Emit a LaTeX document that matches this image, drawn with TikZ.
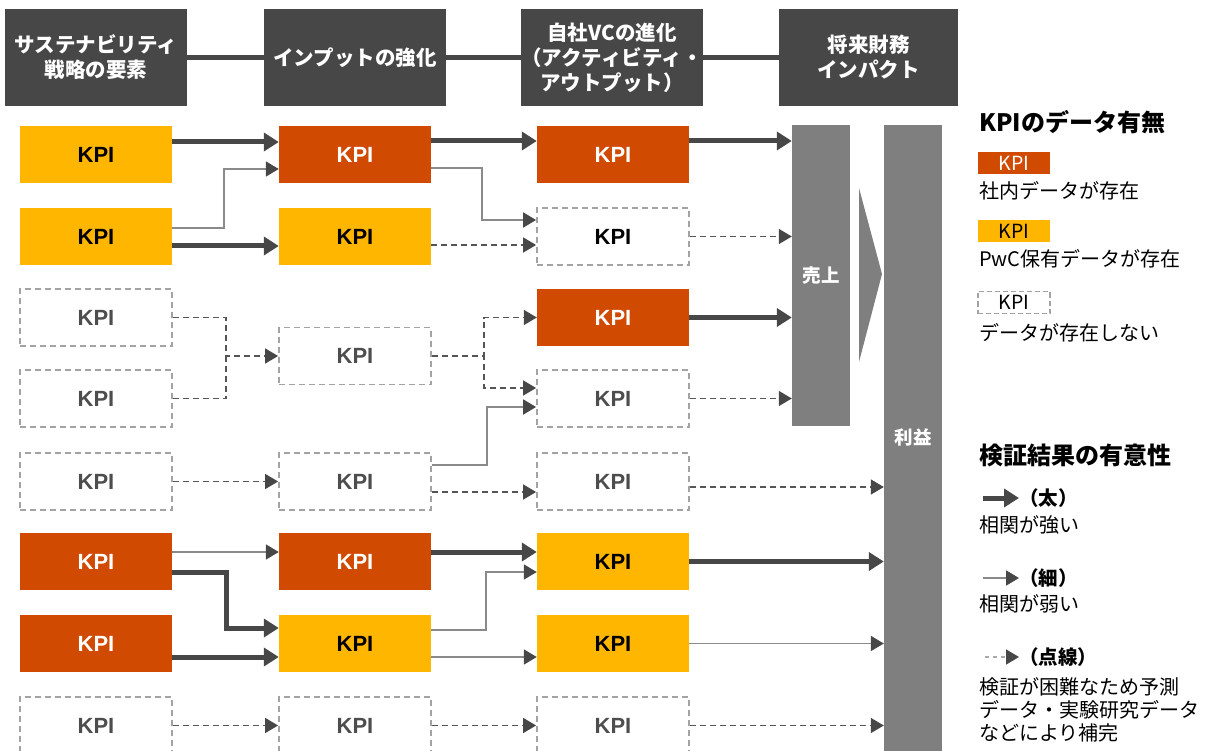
\documentclass[tikz,border=0pt]{standalone}
\usepackage{fontspec}
\setmainfont{Noto Sans CJK JP}
\newfontfamily\arialf{Liberation Sans}
\usetikzlibrary{arrows.meta,calc}
\definecolor{dk}{HTML}{474747}
\definecolor{pwcred}{HTML}{D04A02}
\definecolor{pwcyel}{HTML}{FFB600}
\definecolor{barc}{HTML}{7F7F7F}
\definecolor{thingray}{HTML}{8A8A8A}
\definecolor{dashgray}{HTML}{A3A3A3}
\definecolor{dashc}{HTML}{555555}
\definecolor{kpigray}{HTML}{4D4D4D}
\definecolor{lightdash}{HTML}{AAAAAA}
\begin{document}
\begin{tikzpicture}[x=1pt,y=-1pt,
  kpibase/.style={minimum width=152pt, minimum height=57pt, inner sep=0pt, font=\arialf\bfseries\fontsize{22}{22}\selectfont},
  kR/.style={kpibase, fill=pwcred, text=white},
  kY/.style={kpibase, fill=pwcyel, text=black},
  kD/.style={kpibase, draw=dashgray, line width=1.8pt, dash pattern=on 6pt off 4pt, text=kpigray},
  hdr/.style={fill=dk, text=white, minimum width=182pt, minimum height=97pt, inner sep=0pt, align=center, font=\bfseries\fontsize{20.5}{25}\selectfont},
  bar/.style={fill=barc, inner sep=0pt, text=white, font=\bfseries\fontsize{18.5}{18.5}\selectfont},
  thk/.style={draw=dk, line width=5pt, -{Triangle[length=15pt,width=18pt,color=dk]}},
  thn/.style={draw=thingray, line width=1.8pt, -{Triangle[length=13pt,width=15pt,color=dk]}},
  dsh/.style={draw=dashc, line width=1.5pt, dash pattern=on 6pt off 4pt, -{Triangle[length=13pt,width=15pt,color=dk]}},
  lgT/.style={anchor=west, inner sep=0pt, font=\bfseries\fontsize{24}{24}\selectfont},
  lgtx/.style={anchor=west, inner sep=0pt, align=left, font=\fontsize{20}{23}\selectfont},
  lgk/.style={anchor=west, inner sep=0pt, font=\bfseries\fontsize{19.5}{19.5}\selectfont},
  lgbox/.style={minimum width=72pt, minimum height=22pt, inner sep=0pt, font=\fontsize{19.5}{19.5}\selectfont}
]
\useasboundingbox (0,0) rectangle (1207,751);
\clip (0,0) rectangle (1207,751);

% headers
\node[hdr] (h1) at (96,57.5) {サステナビリティ\\戦略の要素};
\node[hdr] (h2) at (355,57.5) {インプットの強化};
\node[hdr, minimum width=180pt] (h3) at (612,57.5) {自社VCの進化\\（アクティビティ・\\アウトプット）};
\node[hdr, minimum width=179pt] (h4) at (868.5,57.5) {将来財務\\インパクト};
\draw[dk, line width=5pt] (h1.east) -- (h2.west) (h2.east) -- (h3.west) (h3.east) -- (h4.west);

% column 1
\node[kY] (r1c1) at (96,154.5) {KPI};
\node[kY] (r2c1) at (96,236.5) {KPI};
\node[kD] (r3c1) at (96,317.5) {KPI};
\node[kD] (r4c1) at (96,398.5) {KPI};
\node[kD] (r5c1) at (96,481.5) {KPI};
\node[kR] (r6c1) at (96,561.5) {KPI};
\node[kR] (r7c1) at (96,643.5) {KPI};
\node[kD] (r8c1) at (96,725.5) {KPI};

% column 2
\node[kR] (r1c2) at (355,154.5) {KPI};
\node[kY] (r2c2) at (355,236.5) {KPI};
\node[kD] (m2) at (355,356) {KPI};
\node[kD] (r5c2) at (355,481.5) {KPI};
\node[kR] (r6c2) at (355,561.5) {KPI};
\node[kY] (r7c2) at (355,643.5) {KPI};
\node[kD] (r8c2) at (355,725.5) {KPI};

% column 3
\node[kR] (r1c3) at (613,154.5) {KPI};
\node[kD, text=black] (r2c3) at (613,236.5) {KPI};
\node[kR] (r3c3) at (613,317.5) {KPI};
\node[kD] (r4c3) at (613,398.5) {KPI};
\node[kD] (r5c3) at (613,481.5) {KPI};
\node[kY] (r6c3) at (613,561.5) {KPI};
\node[kY] (r7c3) at (613,643.5) {KPI};
\node[kD] (r8c3) at (613,725.5) {KPI};

% bars
\node[bar, minimum width=58pt, minimum height=301pt] (uri) at (821,275.5) {売上};
\node[bar, minimum width=58pt, minimum height=640pt] (rieki) at (913,445) {};
\node[bar, fill=none] (riekiT) at (913,437) {利益};
\fill[barc] (859,188) -- (882,274) -- (859,362) -- cycle;

% column 1 -> column 2
\draw[thk] ([yshift=12.5pt]r1c1.east) -- ([yshift=12.5pt]r1c2.west);
\draw[thn] ([yshift=8.5pt]r2c1.east) -- ++(52,0) |- ([yshift=-14.5pt]r1c2.west);
\draw[thk] ([yshift=-9.5pt]r2c1.east) -- ([yshift=-9.5pt]r2c2.west);
\draw[dsh] (r3c1.east) -- ++(53,0) |- (m2.west);
\draw[dsh, -] (r4c1.east) -- ++(53,0) -- ++(0,-42.5);
\draw[dsh] (r5c1.east) -- (r5c2.west);
\draw[thn] ([yshift=9.5pt]r6c1.east) -- ([yshift=9.5pt]r6c2.west);
\draw[thk] ([yshift=-10.5pt]r6c1.east) -- ++(54,0) |- ([yshift=15.5pt]r7c2.west);
\draw[thk] ([yshift=-13.5pt]r7c1.east) -- ([yshift=-13.5pt]r7c2.west);
\draw[dsh] (r8c1.east) -- (r8c2.west);

% column 2 -> column 3
\draw[thk] ([yshift=13.5pt]r1c2.east) -- ([yshift=13.5pt]r1c3.west);
\draw[thn] ([yshift=-13.5pt]r1c2.east) -- ++(51,0) |- ([yshift=16.5pt]r2c3.west);
\draw[dsh] ([yshift=-8.5pt]r2c2.east) -- ([yshift=-8.5pt]r2c3.west);
\draw[dsh] (m2.east) -- ++(52,0) |- (r3c3.west);
\draw[dsh] (m2.east) -- ++(52,0) |- ([yshift=10.5pt]r4c3.west);
\draw[thn] ([yshift=16.5pt]r5c2.east) -- ++(55,0) |- ([yshift=-8.5pt]r4c3.west);
\draw[dsh] ([yshift=-10.5pt]r5c2.east) -- ([yshift=-10.5pt]r5c3.west);
\draw[thk] ([yshift=9.5pt]r6c2.east) -- ([yshift=9.5pt]r6c3.west);
\draw[thn] ([yshift=13.5pt]r7c2.east) -- ++(55,0) |- ([yshift=-10.5pt]r6c3.west);
\draw[thn] ([yshift=-13.5pt]r7c2.east) -- ([yshift=-13.5pt]r7c3.west);
\draw[dsh] (r8c2.east) -- (r8c3.west);

% column 3 -> bars
\coordinate (e1) at ([yshift=13.5pt]r1c3.east);
\coordinate (e2) at (r2c3.east);
\coordinate (e3) at (r3c3.east);
\coordinate (e4) at (r4c3.east);
\coordinate (e5) at ([yshift=-5.5pt]r5c3.east);
\coordinate (e6) at (r6c3.east);
\coordinate (e7) at (r7c3.east);
\coordinate (e8) at (r8c3.east);
\draw[thk] (e1) -- (e1 -| uri.west);
\draw[dsh] (e2) -- (e2 -| uri.west);
\draw[thk] (e3) -- (e3 -| uri.west);
\draw[dsh] (e4) -- (e4 -| uri.west);
\draw[dsh] (e5) -- (e5 -| rieki.west);
\draw[thk] (e6) -- (e6 -| rieki.west);
\draw[thn] (e7) -- (e7 -| rieki.west);
\draw[dsh] (e8) -- (e8 -| rieki.west);

% legend
\node[lgT] (lt1) at (979,122) {KPIのデータ有無};
\node[lgbox, fill=pwcred, text=white] (lb1) at (1014,163) {KPI};
\node[lgtx] (lx1) at (979,191) {社内データが存在};
\node[lgbox, fill=pwcyel, text=black] (lb2) at (1014,231.5) {KPI};
\node[lgtx] (lx2) at (979,259) {PwC保有データが存在};
\node[lgbox, draw=dashgray, line width=1.5pt, dash pattern=on 5pt off 3pt, text=black] (lb3) at (1014,302.5) {KPI};
\node[lgtx] (lx3) at (979,333) {データが存在しない};

\node[lgT] (lt2) at (979,455) {検証結果の有意性};
\coordinate (la1) at (983,498);
\node[lgk] (lk1) at (1019,498) {（太）};
\draw[thk] (la1) -- (lk1.west);
\node[lgtx] (lx4) at (979,525) {相関が強い};
\coordinate (la2) at (983,578);
\node[lgk] (lk2) at (1019,578) {（細）};
\draw[thn] (la2) -- (lk2.west);
\node[lgtx] (lx5) at (979,604) {相関が弱い};
\coordinate (la3) at (985,657);
\node[lgk] (lk3) at (1019,657) {（点線）};
\draw[dsh, draw=lightdash, dash pattern=on 4pt off 4pt] (la3) -- (lk3.west);
\node[lgtx] (lx6) at (979,710) {検証が困難なため予測\\データ・実験研究データ\\などにより補完};
\end{tikzpicture}
\end{document}
